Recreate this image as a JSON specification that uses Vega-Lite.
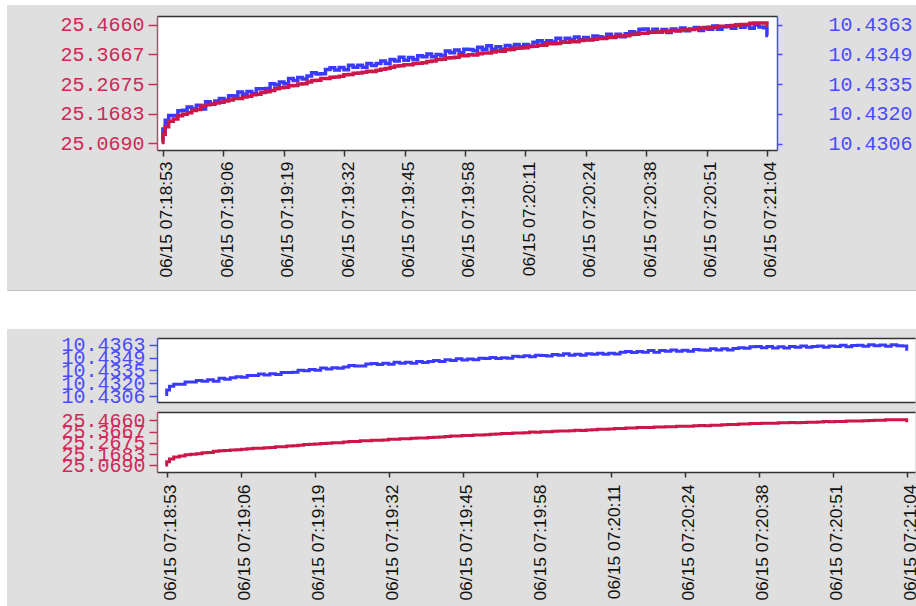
{
  "$schema": "https://vega.github.io/schema/vega-lite/v6.json",
  "background": "#dfdfdf",
  "padding": 0,
  "spacing": 0,
  "align": "none",
  "config": {
    "view": {"stroke": null},
    "axis": {"grid": false, "labelOverlap": false, "labelFlush": false, "labelBound": false}
  },
  "datasets": {
    "d": [
      {"t":53,"r":25.072,"b":10.4308},{"t":53.5,"r":25.1,"b":10.4313},{"t":54,"r":25.125,"b":10.43172},
      {"t":55,"r":25.143,"b":10.43194},{"t":56,"r":25.151,"b":10.43194},{"t":57,"r":25.1615,"b":10.43217},
      {"t":58,"r":25.167,"b":10.43219},{"t":59,"r":25.172,"b":10.43235},{"t":60,"r":25.179,"b":10.43225},
      {"t":61,"r":25.1825,"b":10.43243},{"t":62,"r":25.194,"b":10.43226},{"t":63,"r":25.198,"b":10.4326},
      {"t":64,"r":25.2,"b":10.43249},{"t":65,"r":25.2045,"b":10.43264},{"t":66,"r":25.2065,"b":10.43276},
      {"t":67,"r":25.211,"b":10.43269},{"t":68,"r":25.214,"b":10.43289},{"t":69,"r":25.2195,"b":10.43288},
      {"t":70,"r":25.2195,"b":10.43307},{"t":71,"r":25.224,"b":10.43296},{"t":72,"r":25.227,"b":10.43309},
      {"t":73,"r":25.232,"b":10.433},{"t":74,"r":25.233,"b":10.43323},{"t":75,"r":25.2395,"b":10.43323},
      {"t":76,"r":25.2415,"b":10.43324},{"t":77,"r":25.246,"b":10.43347},{"t":78,"r":25.252,"b":10.43341},
      {"t":79,"r":25.255,"b":10.43355},{"t":80,"r":25.2565,"b":10.43347},{"t":81,"r":25.262,"b":10.43372},
      {"t":82,"r":25.2625,"b":10.43362},{"t":83,"r":25.2675,"b":10.43376},{"t":84,"r":25.268,"b":10.43369},
      {"t":85,"r":25.274,"b":10.43383},{"t":86,"r":25.279,"b":10.43399},{"t":87,"r":25.28,"b":10.43393},
      {"t":88,"r":25.2855,"b":10.43394},{"t":89,"r":25.2855,"b":10.43415},{"t":90,"r":25.29,"b":10.43423},
      {"t":91,"r":25.291,"b":10.43412},{"t":92,"r":25.293,"b":10.43424},{"t":93,"r":25.2985,"b":10.43414},
      {"t":94,"r":25.2995,"b":10.43435},{"t":95,"r":25.303,"b":10.43425},{"t":96,"r":25.304,"b":10.43435},
      {"t":97,"r":25.307,"b":10.43425},{"t":98,"r":25.31,"b":10.43443},{"t":99,"r":25.3095,"b":10.43434},
      {"t":100,"r":25.3135,"b":10.43444},{"t":101,"r":25.317,"b":10.43456},{"t":102,"r":25.319,"b":10.43444},
      {"t":103,"r":25.323,"b":10.43462},{"t":104,"r":25.3275,"b":10.43456},{"t":105,"r":25.328,"b":10.43473},
      {"t":106,"r":25.3315,"b":10.43459},{"t":107,"r":25.332,"b":10.43472},{"t":108,"r":25.336,"b":10.43462},
      {"t":109,"r":25.337,"b":10.43481},{"t":110,"r":25.3385,"b":10.43476},{"t":111,"r":25.343,"b":10.43489},
      {"t":112,"r":25.3445,"b":10.43476},{"t":113,"r":25.349,"b":10.43486},{"t":114,"r":25.35,"b":10.4348},
      {"t":115,"r":25.3545,"b":10.43503},{"t":116,"r":25.355,"b":10.43495},{"t":117,"r":25.357,"b":10.43508},
      {"t":118,"r":25.362,"b":10.43495},{"t":119,"r":25.3615,"b":10.43512},{"t":120,"r":25.365,"b":10.43511},
      {"t":121,"r":25.3645,"b":10.43504},{"t":122,"r":25.3685,"b":10.43521},{"t":123,"r":25.371,"b":10.43512},
      {"t":124,"r":25.371,"b":10.43528},{"t":125,"r":25.374,"b":10.43512},{"t":126,"r":25.3775,"b":10.43524},
      {"t":127,"r":25.377,"b":10.43512},{"t":128,"r":25.3815,"b":10.4353},{"t":129,"r":25.383,"b":10.43523},
      {"t":130,"r":25.387,"b":10.43535},{"t":131,"r":25.388,"b":10.43524},{"t":132,"r":25.3885,"b":10.43535},
      {"t":133,"r":25.393,"b":10.43527},{"t":134,"r":25.3935,"b":10.43545},{"t":135,"r":25.397,"b":10.43553},
      {"t":136,"r":25.397,"b":10.43543},{"t":137,"r":25.4015,"b":10.43553},{"t":138,"r":25.402,"b":10.43547},
      {"t":139,"r":25.403,"b":10.43565},{"t":140,"r":25.407,"b":10.43547},{"t":141,"r":25.4065,"b":10.43564},
      {"t":142,"r":25.409,"b":10.43557},{"t":143,"r":25.4085,"b":10.4357},{"t":144,"r":25.4125,"b":10.43557},
      {"t":145,"r":25.414,"b":10.43568},{"t":146,"r":25.414,"b":10.43558},{"t":147,"r":25.417,"b":10.43575},
      {"t":148,"r":25.4195,"b":10.43571},{"t":149,"r":25.419,"b":10.43567},{"t":150,"r":25.4225,"b":10.43584},
      {"t":151,"r":25.423,"b":10.43572},{"t":152,"r":25.427,"b":10.43584},{"t":153,"r":25.428,"b":10.43571},
      {"t":154,"r":25.4285,"b":10.43586},{"t":155,"r":25.433,"b":10.43595},{"t":156,"r":25.4335,"b":10.43589},
      {"t":157,"r":25.437,"b":10.43607},{"t":158,"r":25.437,"b":10.43609},{"t":159,"r":25.4405,"b":10.43595},
      {"t":160,"r":25.44,"b":10.43608},{"t":161,"r":25.441,"b":10.43593},{"t":162,"r":25.444,"b":10.43606},
      {"t":163,"r":25.4435,"b":10.43592},{"t":164,"r":25.446,"b":10.43609},{"t":165,"r":25.4445,"b":10.43601},
      {"t":166,"r":25.4475,"b":10.43614},{"t":167,"r":25.449,"b":10.436},{"t":168,"r":25.449,"b":10.43609},
      {"t":169,"r":25.451,"b":10.43616},{"t":170,"r":25.4545,"b":10.43602},{"t":171,"r":25.453,"b":10.43616},
      {"t":172,"r":25.4565,"b":10.43608},{"t":173,"r":25.456,"b":10.43623},{"t":174,"r":25.46,"b":10.43607},
      {"t":175,"r":25.46,"b":10.43619},{"t":176,"r":25.4595,"b":10.43624},{"t":177,"r":25.463,"b":10.43612},
      {"t":178,"r":25.4635,"b":10.43629},{"t":179,"r":25.466,"b":10.43617},{"t":180,"r":25.466,"b":10.43626},
      {"t":181,"r":25.4705,"b":10.43612},{"t":182,"r":25.471,"b":10.43628},{"t":183,"r":25.471,"b":10.43618},
      {"t":184,"r":25.471,"b":10.43615},{"t":184.5,"r":25.463,"b":10.43578}
    ]
  },
  "hconcat": [
    {"width": 7, "height": 606, "view": {"fill": "white"}, "data": {"values": []}, "mark": "point"},
    {
      "columns": 2,
      "spacing": 0,
      "bounds": "flush",
      "align": "each",
      "concat": [
        {"width": 150, "height": 5, "view": {"fill": "white"}, "data": {"values": []}, "mark": "point"},
        {"width": 759, "height": 5, "view": {"fill": "white"}, "data": {"values": []}, "mark": "point"},

        {"width": 150, "height": 10.5, "data": {"values": []}, "mark": "point"},
        {"width": 759, "height": 10.5, "data": {"values": []}, "mark": "point"},

        {"width": 150, "height": 134, "data": {"values": []}, "mark": "point"},
        {
          "width": 620, "height": 134,
          "data": {"name": "d"},
          "view": {"fill": "white"},
          "layer": [
            {
              "mark": {"type": "line", "color": "#3a3aff", "strokeWidth": 3.5, "interpolate": "step"},
              "encoding": {
                "x": {"field": "t", "type": "quantitative", "title": null,
                  "scale": {"domain": [51.964, 186.43], "nice": false, "zero": false},
                  "axis": {"orient": "top", "labels": false, "ticks": false, "domain": true, "domainColor": "#333", "domainWidth": 1.5}},
                "y": {"field": "b", "type": "quantitative", "title": null,
                  "scale": {"domain": [10.43029, 10.43671], "nice": false, "zero": false},
                  "axis": {"orient": "right", "values": [10.4306, 10.432025, 10.433451, 10.434875, 10.4363], "format": ".4f",
                    "domainColor": "#4a4aff", "domainWidth": 1.5, "tickColor": "#4a4aff", "tickWidth": 1.5, "tickSize": 5,
                    "labelColor": "#4a4aff", "labelFont": "Liberation Mono", "labelFontSize": 20, "labelPadding": 46, "labelOverlap": false}}
              }
            },
            {
              "mark": {"type": "line", "color": "#cc1848", "strokeWidth": 3.5, "interpolate": "step"},
              "encoding": {
                "x": {"field": "t", "type": "quantitative", "title": null,
                  "axis": {"orient": "bottom", "values": [53.25, 66.35, 79.45, 92.55, 105.65, 118.75, 131.85, 144.95, 158.05, 171.15, 184.25],
                    "labelExpr": "'06/15 07:' + (18 + floor(datum.value / 60)) + ':' + (floor(datum.value % 60) < 10 ? '0' : '') + floor(datum.value % 60)",
                    "labelAngle": 270, "labelFont": "Liberation Sans", "labelFontSize": 17.4, "labelColor": "#111", "labelPadding": 5, "labelOffset": 4,
                    "domainColor": "#333", "domainWidth": 1.5, "tickColor": "#333", "tickWidth": 1.5, "tickSize": 6,
                    "labelOverlap": false, "labelFlush": false}},
                "y": {"field": "r", "type": "quantitative", "title": null,
                  "scale": {"domain": [25.0473, 25.4944], "nice": false, "zero": false},
                  "axis": {"orient": "left", "values": [25.069, 25.168251, 25.2675, 25.366749, 25.466], "format": ".4f",
                    "domainColor": "#d83a6a", "domainWidth": 1.5, "tickColor": "#d02858", "tickWidth": 1.5, "tickSize": 9,
                    "labelColor": "#d02858", "labelFont": "Liberation Mono", "labelFontSize": 20, "labelPadding": 4, "labelOverlap": false}}
              }
            }
          ],
          "resolve": {"scale": {"y": "independent"}, "axis": {"x": "independent", "y": "independent"}}
        },

        {"width": 150, "height": 140.5, "data": {"values": []}, "mark": "point",
          "encoding": {"x": {"field": "t", "type": "quantitative", "title": null, "scale": {"domain": [0, 1]},
            "axis": {"orient": "bottom", "labels": false, "ticks": false, "domainColor": "#b4b4b4", "domainWidth": 1.5}}}},
        {"width": 759, "height": 140.5, "data": {"values": []}, "mark": "point",
          "encoding": {"x": {"field": "t", "type": "quantitative", "title": null, "scale": {"domain": [0, 1]},
            "axis": {"orient": "bottom", "labels": false, "ticks": false, "domainColor": "#b4b4b4", "domainWidth": 1.5}}}},

        {"width": 150, "height": 38, "view": {"fill": "white"}, "data": {"values": []}, "mark": "point"},
        {"width": 759, "height": 38, "view": {"fill": "white"}, "data": {"values": []}, "mark": "point"},

        {"width": 150, "height": 8.7, "data": {"values": []}, "mark": "point"},
        {"width": 759, "height": 8.7, "data": {"values": []}, "mark": "point"},

        {"width": 150, "height": 64, "data": {"values": []}, "mark": "point"},
        {
          "width": 758, "height": 64,
          "data": {"name": "d"},
          "view": {"fill": "white"},
          "layer": [
            {
              "mark": {"type": "line", "color": "#3a3aff", "strokeWidth": 3, "interpolate": "step"},
              "encoding": {
                "x": {"field": "t", "type": "quantitative", "title": null,
                  "scale": {"domain": [51.533, 185.714], "nice": false, "zero": false},
                  "axis": {"orient": "bottom", "labels": false, "ticks": false, "domainColor": "#333", "domainWidth": 1.5}},
                "y": {"field": "b", "type": "quantitative", "title": null,
                  "scale": {"domain": [10.42997, 10.43703], "nice": false, "zero": false},
                  "axis": {"orient": "left", "values": [10.4306, 10.432025, 10.433451, 10.434875, 10.4363], "format": ".4f",
                    "domainColor": "#4a4aff", "domainWidth": 1.5, "tickColor": "#4a4aff", "tickWidth": 1.5, "tickSize": 8,
                    "labelColor": "#4a4aff", "labelFont": "Liberation Mono", "labelFontSize": 20, "labelPadding": 4, "labelOverlap": false}}
              }
            },
            {
              "mark": {"type": "line", "opacity": 0},
              "encoding": {
                "x": {"field": "t", "type": "quantitative", "title": null,
                  "axis": {"orient": "top", "labels": false, "ticks": false, "domainColor": "#333", "domainWidth": 1.5}},
                "y": {"field": "b", "type": "quantitative", "axis": null}
              }
            }
          ],
          "resolve": {"axis": {"x": "independent", "y": "independent"}}
        },

        {"width": 150, "height": 9.3, "data": {"values": []}, "mark": "point"},
        {"width": 759, "height": 9.3, "data": {"values": []}, "mark": "point"},

        {"width": 150, "height": 60, "data": {"values": []}, "mark": "point"},
        {
          "width": 758, "height": 60,
          "data": {"name": "d"},
          "view": {"fill": "white"},
          "layer": [
            {
              "mark": {"type": "line", "color": "#cc1848", "strokeWidth": 3, "interpolate": "step"},
              "encoding": {
                "x": {"field": "t", "type": "quantitative", "title": null,
                  "scale": {"domain": [51.533, 185.714], "nice": false, "zero": false},
                  "axis": {"orient": "bottom", "values": [53.25, 66.35, 79.45, 92.55, 105.65, 118.75, 131.85, 144.95, 158.05, 171.15, 184.25],
                    "labelExpr": "'06/15 07:' + (18 + floor(datum.value / 60)) + ':' + (floor(datum.value % 60) < 10 ? '0' : '') + floor(datum.value % 60)",
                    "labelAngle": 270, "labelFont": "Liberation Sans", "labelFontSize": 17.4, "labelColor": "#111", "labelPadding": 7, "labelOffset": 4,
                    "domainColor": "#333", "domainWidth": 1.5, "tickColor": "#333", "tickWidth": 1.5, "tickSize": 5,
                    "labelOverlap": false, "labelFlush": false}},
                "y": {"field": "r", "type": "quantitative", "title": null,
                  "scale": {"domain": [25.0099, 25.5392], "nice": false, "zero": false},
                  "axis": {"orient": "left", "values": [25.069, 25.168251, 25.2675, 25.366749, 25.466], "format": ".4f",
                    "domainColor": "#d83a6a", "domainWidth": 1.5, "tickColor": "#d02858", "tickWidth": 1.5, "tickSize": 8,
                    "labelColor": "#d02858", "labelFont": "Liberation Mono", "labelFontSize": 20, "labelPadding": 4, "labelOverlap": false}}
              }
            },
            {
              "mark": {"type": "line", "opacity": 0},
              "encoding": {
                "x": {"field": "t", "type": "quantitative", "title": null,
                  "axis": {"orient": "top", "labels": false, "ticks": false, "domainColor": "#333", "domainWidth": 1.5}},
                "y": {"field": "r", "type": "quantitative", "axis": null}
              }
            }
          ],
          "resolve": {"axis": {"x": "independent", "y": "independent"}}
        },

        {"width": 150, "height": 136, "data": {"values": []}, "mark": "point"},
        {"width": 759, "height": 136, "data": {"values": []}, "mark": "point"}
      ]
    }
  ]
}
